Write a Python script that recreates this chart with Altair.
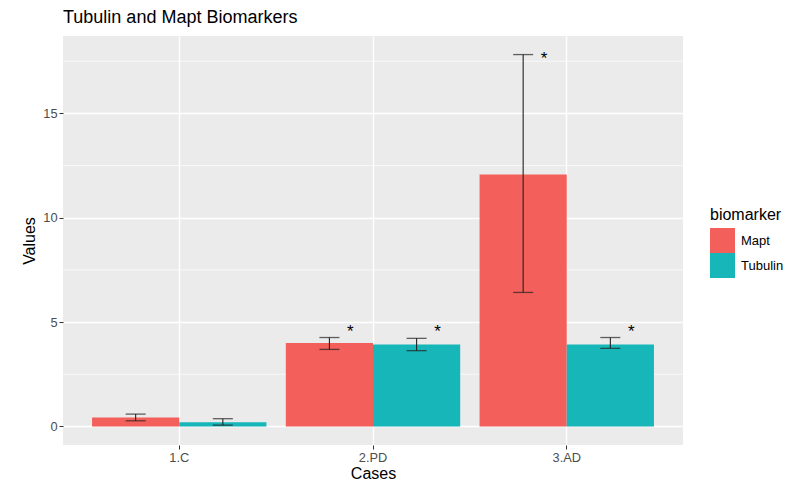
import altair as alt
import pandas as pd

cases = ["1.C", "2.PD", "3.AD"]
biomarkers = ["Mapt", "Tubulin"]

mapt_mean = [0.43, 4.00, 12.07]
mapt_lo = [0.27, 3.69, 6.42]
mapt_hi = [0.59, 4.26, 17.82]
mapt_star = [None, 4.70, 17.80]

tub_mean = [0.20, 3.93, 3.93]
tub_lo = [0.06, 3.63, 3.74]
tub_hi = [0.37, 4.22, 4.26]
tub_star = [None, 4.70, 4.70]

minor_grid = [2.5, 7.5, 12.5, 17.5]
y_ticks = [0, 5, 10, 15]
y_domain = [-0.891, 18.71]

colors = ["#F35F5A", "#17B6B9"]

rows = []
for i, c in enumerate(cases):
    rows.append(dict(case=c, biomarker="Mapt", value=mapt_mean[i], lo=mapt_lo[i],
                     hi=mapt_hi[i], star=mapt_star[i]))
    rows.append(dict(case=c, biomarker="Tubulin", value=tub_mean[i], lo=tub_lo[i],
                     hi=tub_hi[i], star=tub_star[i]))
df = pd.DataFrame(rows)
grid_df = pd.DataFrame({"g": minor_grid})

FONT = "Liberation Sans"

x_enc = alt.X("case:N", sort=cases, title="Cases",
              scale=alt.Scale(paddingInner=0.1, paddingOuter=0.15),
              axis=alt.Axis(labelAngle=0, bandPosition=0.5))
xo_enc = alt.XOffset("biomarker:N", sort=biomarkers,
                     scale=alt.Scale(paddingInner=0, paddingOuter=0))
y_scale = alt.Scale(domain=y_domain, nice=False, zero=False)

base = alt.Chart(df)

minor = alt.Chart(grid_df).mark_rule(color="white", strokeWidth=0.7).encode(
    y=alt.Y("g:Q", scale=y_scale)
)

bars = base.mark_bar(opacity=1).encode(
    x=x_enc,
    xOffset=xo_enc,
    y=alt.Y("value:Q", title="Values", scale=y_scale,
            axis=alt.Axis(values=y_ticks)),
    y2=alt.datum(0),
    color=alt.Color("biomarker:N", sort=biomarkers,
                    scale=alt.Scale(domain=biomarkers, range=colors),
                    legend=alt.Legend(title="biomarker", orient="none",
                                      legendX=647, legendY=171,
                                      symbolType="square", symbolSize=625,
                                      symbolStrokeWidth=0, symbolOpacity=1,
                                      rowPadding=0, labelOffset=6,
                                      titlePadding=5, padding=0)),
)

err = base.mark_rule(color="#222222", strokeWidth=1.1).encode(
    x=alt.X("case:N", sort=cases),
    xOffset=xo_enc,
    y=alt.Y("lo:Q", scale=y_scale),
    y2="hi:Q",
)

cap_lo = base.mark_tick(color="#222222", thickness=1.3, size=20).encode(
    x=alt.X("case:N", sort=cases),
    xOffset=xo_enc,
    y=alt.Y("lo:Q", scale=y_scale),
)
cap_hi = base.mark_tick(color="#222222", thickness=1.3, size=20).encode(
    x=alt.X("case:N", sort=cases),
    xOffset=xo_enc,
    y=alt.Y("hi:Q", scale=y_scale),
)

stars = base.transform_filter("isValid(datum.star)").mark_text(
    text="*", fontSize=17, font=FONT, color="black", dx=21, dy=9,
    baseline="alphabetic"
).encode(
    x=alt.X("case:N", sort=cases),
    xOffset=xo_enc,
    y=alt.Y("star:Q", scale=y_scale),
)

chart = alt.layer(minor, bars, err, cap_lo, cap_hi, stars).properties(
    width=620,
    height=409,
    background="white",
    title=alt.TitleParams("Tubulin and Mapt Biomarkers", anchor="start",
                          frame="group",
                          fontSize=18, font=FONT, fontWeight="normal",
                          color="black", offset=9),
    autosize=alt.AutoSizeParams(type="none"),
    padding={"left": 55, "top": 28, "right": 103, "bottom": 37},
).configure_view(
    fill="#EBEBEB", stroke=None
).configure_axis(
    grid=True, gridColor="white", gridWidth=1.4, domain=False,
    tickColor="#333333", tickSize=4, tickWidth=1,
    labelFont=FONT, labelFontSize=12.8, labelColor="#4D4D4D", labelPadding=2,
    titleFont=FONT, titleFontSize=16, titleColor="black", titleFontWeight="normal",
).configure_axisX(
    titlePadding=2
).configure_axisY(
    titlePadding=5
).configure_legend(
    titleFont=FONT, titleFontSize=16, titleColor="black", titleFontWeight="normal",
    labelFont=FONT, labelFontSize=13, labelColor="black",
)

chart.save("out.html", embed_options={"renderer": "svg", "actions": False})
